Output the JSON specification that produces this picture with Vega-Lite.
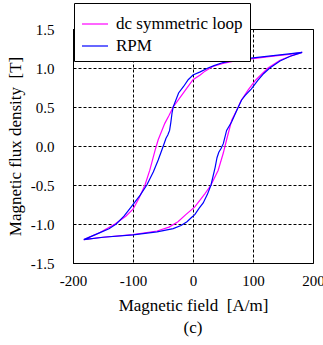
{
  "$schema": "https://vega.github.io/schema/vega-lite/v6.json",
  "width": 240,
  "height": 234,
  "autosize": {"type": "none"},
  "padding": {"left": 73, "top": 29, "right": 10, "bottom": 82},
  "background": "white",
  "config": {
    "font": "Times New Roman, Liberation Serif, DejaVu Serif, serif",
    "view": {"stroke": "black", "strokeWidth": 1},
    "axis": {
      "labelFont": "Times New Roman, Liberation Serif, DejaVu Serif, serif",
      "labelFontSize": 15,
      "labelColor": "black",
      "titleFont": "Times New Roman, Liberation Serif, DejaVu Serif, serif",
      "titleFontSize": 17,
      "titleFontWeight": "normal",
      "titleColor": "black",
      "domainColor": "black",
      "tickSize": 0,
      "ticks": false,
      "grid": true,
      "gridColor": "black",
      "gridDash": [3, 2],
      "gridOpacity": 1,
      "gridWidth": 1,
      "labelFlush": false,
      "labelOverlap": false
    }
  },
  "title": {
    "text": "(c)",
    "orient": "bottom",
    "font": "Times New Roman, Liberation Serif, DejaVu Serif, serif",
    "fontSize": 17,
    "fontWeight": "normal",
    "color": "black",
    "offset": 7
  },
  "data": {
    "values": [
      {"s": "dc symmetric loop", "i": 0, "H": 182, "B": 1.2},
      {"s": "dc symmetric loop", "i": 1, "H": 160, "B": 1.175},
      {"s": "dc symmetric loop", "i": 2, "H": 130, "B": 1.15},
      {"s": "dc symmetric loop", "i": 3, "H": 100, "B": 1.12},
      {"s": "dc symmetric loop", "i": 4, "H": 70, "B": 1.09},
      {"s": "dc symmetric loop", "i": 5, "H": 50, "B": 1.06},
      {"s": "dc symmetric loop", "i": 6, "H": 33, "B": 1.02},
      {"s": "dc symmetric loop", "i": 7, "H": 20, "B": 0.96},
      {"s": "dc symmetric loop", "i": 8, "H": 12, "B": 0.91},
      {"s": "dc symmetric loop", "i": 9, "H": 0, "B": 0.85},
      {"s": "dc symmetric loop", "i": 10, "H": -16, "B": 0.68},
      {"s": "dc symmetric loop", "i": 11, "H": -33, "B": 0.5},
      {"s": "dc symmetric loop", "i": 12, "H": -40, "B": 0.39},
      {"s": "dc symmetric loop", "i": 13, "H": -47, "B": 0.29},
      {"s": "dc symmetric loop", "i": 14, "H": -58, "B": 0.08},
      {"s": "dc symmetric loop", "i": 15, "H": -63, "B": -0.05},
      {"s": "dc symmetric loop", "i": 16, "H": -72, "B": -0.31},
      {"s": "dc symmetric loop", "i": 17, "H": -80, "B": -0.5},
      {"s": "dc symmetric loop", "i": 18, "H": -90, "B": -0.67},
      {"s": "dc symmetric loop", "i": 19, "H": -100, "B": -0.81},
      {"s": "dc symmetric loop", "i": 20, "H": -112, "B": -0.9},
      {"s": "dc symmetric loop", "i": 21, "H": -130, "B": -1.0},
      {"s": "dc symmetric loop", "i": 22, "H": -155, "B": -1.11},
      {"s": "dc symmetric loop", "i": 23, "H": -182, "B": -1.2},
      {"s": "dc symmetric loop", "i": 24, "H": -150, "B": -1.17},
      {"s": "dc symmetric loop", "i": 25, "H": -100, "B": -1.135},
      {"s": "dc symmetric loop", "i": 26, "H": -60, "B": -1.09},
      {"s": "dc symmetric loop", "i": 27, "H": -40, "B": -1.04},
      {"s": "dc symmetric loop", "i": 28, "H": -25, "B": -0.97},
      {"s": "dc symmetric loop", "i": 29, "H": -12, "B": -0.88},
      {"s": "dc symmetric loop", "i": 30, "H": 3, "B": -0.78},
      {"s": "dc symmetric loop", "i": 31, "H": 20, "B": -0.61},
      {"s": "dc symmetric loop", "i": 32, "H": 30, "B": -0.5},
      {"s": "dc symmetric loop", "i": 33, "H": 42, "B": -0.31},
      {"s": "dc symmetric loop", "i": 34, "H": 50.5, "B": -0.09},
      {"s": "dc symmetric loop", "i": 35, "H": 56, "B": 0.08},
      {"s": "dc symmetric loop", "i": 36, "H": 64.5, "B": 0.33},
      {"s": "dc symmetric loop", "i": 37, "H": 75.5, "B": 0.5},
      {"s": "dc symmetric loop", "i": 38, "H": 80, "B": 0.58},
      {"s": "dc symmetric loop", "i": 39, "H": 86, "B": 0.65},
      {"s": "dc symmetric loop", "i": 40, "H": 92, "B": 0.72},
      {"s": "dc symmetric loop", "i": 41, "H": 105, "B": 0.85},
      {"s": "dc symmetric loop", "i": 42, "H": 125, "B": 1.0},
      {"s": "dc symmetric loop", "i": 43, "H": 145, "B": 1.1},
      {"s": "dc symmetric loop", "i": 44, "H": 162, "B": 1.15},
      {"s": "dc symmetric loop", "i": 45, "H": 182, "B": 1.2},

      {"s": "RPM", "i": 0, "H": 182, "B": 1.2},
      {"s": "RPM", "i": 1, "H": 160, "B": 1.18},
      {"s": "RPM", "i": 2, "H": 130, "B": 1.155},
      {"s": "RPM", "i": 3, "H": 100, "B": 1.13},
      {"s": "RPM", "i": 4, "H": 70, "B": 1.1},
      {"s": "RPM", "i": 5, "H": 50, "B": 1.07},
      {"s": "RPM", "i": 6, "H": 35, "B": 1.03},
      {"s": "RPM", "i": 7, "H": 25, "B": 1.0},
      {"s": "RPM", "i": 8, "H": 12, "B": 0.95},
      {"s": "RPM", "i": 9, "H": 0, "B": 0.91},
      {"s": "RPM", "i": 10, "H": -8, "B": 0.85},
      {"s": "RPM", "i": 11, "H": -16, "B": 0.76},
      {"s": "RPM", "i": 12, "H": -24, "B": 0.68},
      {"s": "RPM", "i": 13, "H": -33, "B": 0.5},
      {"s": "RPM", "i": 14, "H": -35, "B": 0.42},
      {"s": "RPM", "i": 15, "H": -37, "B": 0.3},
      {"s": "RPM", "i": 16, "H": -39, "B": 0.2},
      {"s": "RPM", "i": 17, "H": -42, "B": 0.14},
      {"s": "RPM", "i": 18, "H": -45, "B": 0.1},
      {"s": "RPM", "i": 19, "H": -49.5, "B": 0.0},
      {"s": "RPM", "i": 20, "H": -58, "B": -0.18},
      {"s": "RPM", "i": 21, "H": -66, "B": -0.33},
      {"s": "RPM", "i": 22, "H": -77, "B": -0.5},
      {"s": "RPM", "i": 23, "H": -88, "B": -0.63},
      {"s": "RPM", "i": 24, "H": -102, "B": -0.77},
      {"s": "RPM", "i": 25, "H": -115, "B": -0.9},
      {"s": "RPM", "i": 26, "H": -128, "B": -1.0},
      {"s": "RPM", "i": 27, "H": -140, "B": -1.06},
      {"s": "RPM", "i": 28, "H": -155, "B": -1.11},
      {"s": "RPM", "i": 29, "H": -182, "B": -1.2},
      {"s": "RPM", "i": 30, "H": -150, "B": -1.17},
      {"s": "RPM", "i": 31, "H": -100, "B": -1.14},
      {"s": "RPM", "i": 32, "H": -60, "B": -1.1},
      {"s": "RPM", "i": 33, "H": -33, "B": -1.06},
      {"s": "RPM", "i": 34, "H": -20, "B": -1.02},
      {"s": "RPM", "i": 35, "H": -10, "B": -0.97},
      {"s": "RPM", "i": 36, "H": -3, "B": -0.92},
      {"s": "RPM", "i": 37, "H": 3, "B": -0.88},
      {"s": "RPM", "i": 38, "H": 10, "B": -0.8},
      {"s": "RPM", "i": 39, "H": 17, "B": -0.73},
      {"s": "RPM", "i": 40, "H": 24, "B": -0.62},
      {"s": "RPM", "i": 41, "H": 30, "B": -0.5},
      {"s": "RPM", "i": 42, "H": 37, "B": -0.27},
      {"s": "RPM", "i": 43, "H": 40, "B": -0.15},
      {"s": "RPM", "i": 44, "H": 43, "B": -0.08},
      {"s": "RPM", "i": 45, "H": 47, "B": -0.03},
      {"s": "RPM", "i": 46, "H": 50.5, "B": 0.03},
      {"s": "RPM", "i": 47, "H": 56, "B": 0.2},
      {"s": "RPM", "i": 48, "H": 64.5, "B": 0.31},
      {"s": "RPM", "i": 49, "H": 75.5, "B": 0.5},
      {"s": "RPM", "i": 50, "H": 81, "B": 0.59},
      {"s": "RPM", "i": 51, "H": 87, "B": 0.65},
      {"s": "RPM", "i": 52, "H": 97, "B": 0.73},
      {"s": "RPM", "i": 53, "H": 108, "B": 0.84},
      {"s": "RPM", "i": 54, "H": 118, "B": 0.93},
      {"s": "RPM", "i": 55, "H": 128, "B": 1.0},
      {"s": "RPM", "i": 56, "H": 145, "B": 1.09},
      {"s": "RPM", "i": 57, "H": 162, "B": 1.15},
      {"s": "RPM", "i": 58, "H": 182, "B": 1.2}
    ]
  },
  "mark": {"type": "line", "strokeWidth": 1.2, "interpolate": "linear"},
  "encoding": {
    "x": {
      "field": "H",
      "type": "quantitative",
      "scale": {"domain": [-200, 200], "nice": false, "zero": false},
      "axis": {
        "values": [-200, -100, 0, 100, 200],
        "format": "d",
        "labelExpr": "replace(datum.label, '\u2212', '-')",
        "labelPadding": 10,
        "title": "Magnetic field\u00a0 [A/m]",
        "titlePadding": 9
      }
    },
    "y": {
      "field": "B",
      "type": "quantitative",
      "scale": {"domain": [-1.5, 1.5], "nice": false, "zero": false},
      "axis": {
        "values": [-1.5, -1, -0.5, 0, 0.5, 1, 1.5],
        "format": ".1f",
        "labelExpr": "replace(datum.label, '\u2212', '-')",
        "labelPadding": 19,
        "title": "Magnetic flux density\u00a0 [T]",
        "titlePadding": 6
      }
    },
    "order": {"field": "i", "type": "quantitative"},
    "color": {
      "field": "s",
      "type": "nominal",
      "sort": ["dc symmetric loop", "RPM"],
      "scale": {"domain": ["dc symmetric loop", "RPM"], "range": ["#ff00ff", "#0000ff"]},
      "legend": {
        "title": null,
        "orient": "none",
        "legendX": 1,
        "legendY": -26,
        "symbolType": "stroke",
        "symbolSize": 676,
        "symbolStrokeWidth": 1.2,
        "labelFont": "Times New Roman, Liberation Serif, DejaVu Serif, serif",
        "labelFontSize": 17,
        "labelColor": "black",
        "labelOffset": 7,
        "labelLimit": 300,
        "padding": 7,
        "rowPadding": -7,
        "strokeColor": "black",
        "fillColor": "white"
      }
    }
  }
}
